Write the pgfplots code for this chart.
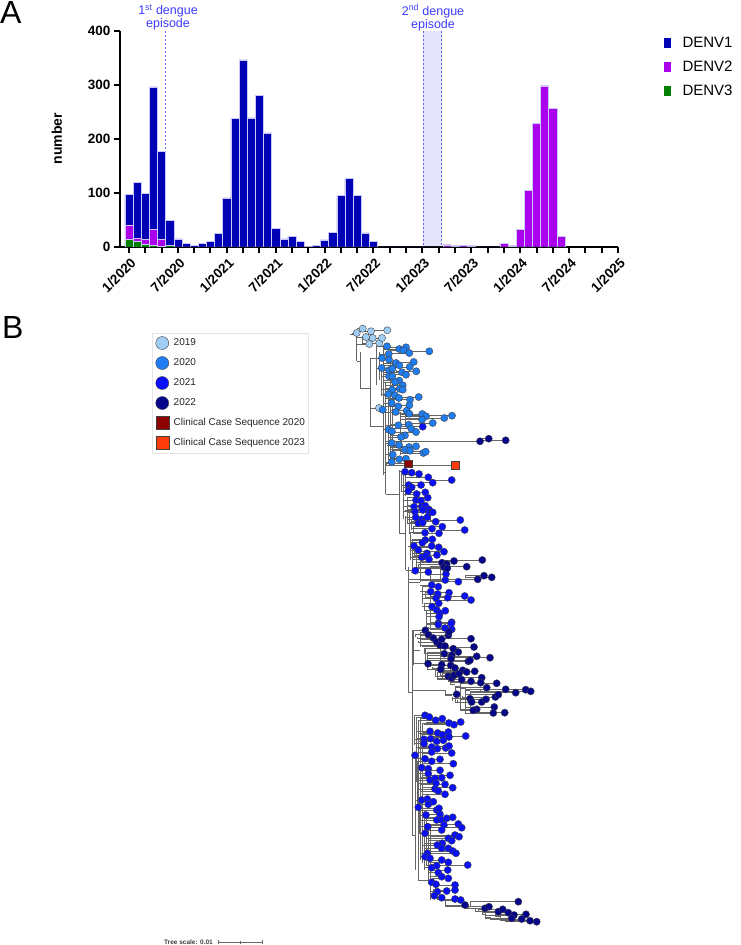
\documentclass[border=0pt]{standalone}
\usepackage{pgfplots}
\usepackage{pgfplotstable}
\pgfplotsset{compat=1.18}
\usepackage{fontspec}
\setmainfont{Liberation Sans}

\definecolor{denvone}{RGB}{0,0,180}
\definecolor{denvtwo}{RGB}{170,0,235}
\definecolor{denvthree}{RGB}{0,128,0}
\definecolor{baredge}{RGB}{200,200,255}
\definecolor{annot}{RGB}{60,60,255}
\definecolor{annotline}{RGB}{100,100,255}
\definecolor{shade}{RGB}{228,228,250}
\definecolor{yr2019}{RGB}{160,205,245}
\definecolor{yr2020}{RGB}{30,125,240}
\definecolor{yr2021}{RGB}{10,15,250}
\definecolor{yr2022}{RGB}{5,5,140}
\definecolor{case2020}{RGB}{140,0,0}
\definecolor{case2023}{RGB}{255,60,10}

% monthly case counts, month 0 = January 2020
\pgfplotstableread{
m d1 d2 d3
0 57 26 14
1 104 6 10
2 85 9 5
3 264 29 3
4 162 14 1
5 46 0 3
6 15 0 0
7 6 0 0
8 3 0 0
9 6 0 0
10 11 0 0
11 25 0 0
12 91 0 0
13 238 0 0
14 346 0 0
15 239 0 0
16 280 0 0
17 211 0 0
18 34 0 0
19 15 0 0
20 19 0 0
21 10 0 0
22 1 0 0
23 3 0 0
24 13 0 0
25 27 0 0
26 95 0 0
27 127 0 0
28 95 0 0
29 26 0 0
30 10 0 0
31 0 0 0
32 0 0 0
33 0 0 0
34 0 0 0
35 0 0 0
36 0 0 0
37 0 0 0
38 0 0 0
39 0 4 0
40 0 2 0
41 0 3 0
42 0 2 0
43 0 0 0
44 0 0 0
45 0 0 0
46 0 7 0
47 0 2 0
48 0 32 0
49 0 105 0
50 0 229 0
51 0 298 0
52 0 257 0
53 0 20 0
}\monthly

% tree tips: x = tip position, y = row, px = x of the parent node
\pgfplotstableread{
x y px
356.7 333 352
362.7 328.7 357
371 331.3 357
387.3 330.3 371
366 337 357
372.7 338 362
369.3 344 357
379.3 343 362
382 338 372
379 408 370
}\tipsA

\pgfplotstableread{
x y px
387 346.3 376
399.3 349 383
406 347.3 383
403.3 350.3 390
409.3 353 390
429.3 351.3 406
388.7 354 379
382 358 376
389 359.7 379
381.7 368 376
396 363 383
399.3 365.3 383
413.7 362 392
409.7 367 392
416.3 371.3 396
389 370.3 379
392.3 368.7 381
402 372.3 383
406 374.7 383
389 376.3 381
392.3 376.3 381
399.3 380.7 383
395 382 383
402.7 385.3 385
392.3 389.7 381
399.7 388.7 385
402.7 389.7 385
388.3 394 381
395 395.3 383
399 398 385
410 399.7 388
418.7 397 392
391.7 403 383
398.3 406.3 385
409.3 405.3 390
406.7 410.7 390
382.7 409.7 376
395.7 412 385
409.3 413.7 392
422.3 414 400
426 416.3 400
422 419.7 400
432.7 423 405
444.3 418 405
452 415.7 405
388.7 429.7 383
392 431.3 385
398.3 425.3 385
408.7 424.7 390
411.3 428.7 392
416 432 395
405 435.3 390
401 437 388
391.7 443 385
399 445 387
409 447 390
416 446.3 392
405 449.7 390
410 450.7 392
423.3 453 400
425.7 451.7 400
392.7 454.7 385
399.3 459.3 388
406 458.7 390
391.7 462 385
}\tipsB

\pgfplotstableread{
x y px
422.7 426.7 400
405 471.7 399
411.7 472.7 401
419 474 403
428.3 477.3 405
432.7 482.7 405
451.7 480 430
408.7 485 401
411.7 487.3 403
421 485 405
408.3 491 401
416.7 494 403
425.3 492.3 405
416 500 403
421 500.7 405
427.7 497.7 407
414 506.7 403
421.7 506.7 405
425.3 505.7 407
428.7 509.3 407
415 511.7 403
422.7 510 405
429.3 512.7 407
432.7 512.3 409
415.7 517.3 405
421.7 519.3 407
427.3 517.3 409
435.7 521.7 411
442.3 526.7 413
460.3 520 430
464.7 530 440
418.3 523.3 407
422.7 522.7 409
432 528.7 411
439 533.3 413
425 532.7 410
432.3 539.3 412
425.3 540 410
422.3 542.7 410
431.7 546 412
414 546 408
418.3 550 410
427 553.3 412
438.7 547.3 414
444 551.7 416
421.7 557.3 410
426 556 412
437 555 414
429 559.3 412
415.3 570.7 409
428.3 572 411
446 574 430
445.3 580 420
458.3 581.7 430
431.7 585 420
438.3 586.7 422
430.7 591.7 420
437.7 594 422
449 592.7 425
447.7 597.7 425
464.7 596 430
471 600 435
436 598.3 422
438.7 603.3 424
432 606.7 422
436.7 610 424
440 613.3 426
445.3 610.7 426
439 616.7 426
451.7 622.3 430
438.3 623.3 426
438.3 624.7 426
445 628 428
451 623.7 430
451.7 629.3 430
425 715.3 414
429.3 717 416
435.7 720.3 418
442.3 718.7 420
449 723 422
454 724.7 424
460.7 722 426
430 731.3 416
437.7 733 418
442.3 734.7 420
448.3 732 422
465.7 736 430
424 739.3 414
430.7 738.7 416
436.7 741.3 418
443.3 740.3 420
449 737 422
424 743.7 414
431.7 747 416
437.3 748.7 418
445.7 748 420
449 746 422
431.7 752 418
451.7 753 422
415 755.3 413
425 758.7 415
431.7 761.3 417
440 759.3 420
453.3 763.7 422
421.7 767.7 415
428.3 768.7 417
440 770.3 420
428.3 773.7 417
450 775.3 422
430 780 416
435 778.3 418
441.7 777.7 420
436 783.3 418
445 784.3 420
452.7 787.7 422
435 789 418
438.3 791 420
445 794.3 422
421.7 800 415
427.3 799 417
433.3 801.7 419
428.3 804.3 417
436.7 810 420
439 808.3 420
418.3 807.3 415
426 815 418
440 814.3 422
436.7 820 420
441.7 820 422
446.7 818.3 424
452.7 817.3 426
458.3 824 428
461.7 827.7 430
427.7 826.7 420
444 825 424
441.7 830 424
425 833.3 419
455 835 428
459 836.7 430
448.3 838.3 426
451.7 840.7 428
442.3 843.3 424
437.3 845 422
441.7 848.3 424
448.3 848.3 426
452.7 851 428
456 853.3 430
427.3 853.3 420
425 856.7 420
430 858.3 422
441.7 860 426
448.3 862.3 428
467.7 865 440
431.7 867.7 424
436.7 865.7 426
447.7 870 430
438.3 872.7 428
448.3 878.3 432
441.7 876.7 430
431.7 882.3 428
436 884.3 430
455 885 435
455 890 435
446.7 891 433
437.3 891.7 430
434.3 895.7 430
441.7 897.7 433
455 899 437
460.7 900 440
}\tipsC

\pgfplotstableread{
x y px
480 441.3 385
488.7 438.7 478
505.7 440.3 478
442 562.7 416
446.7 564 418
454 561 420
482.3 560 440
444 567.3 416
447.3 568.3 418
466.7 566.7 430
477.7 579.3 440
484 575.7 465
491.7 577.3 465
425.3 630.3 413
428.3 634.7 415
433.3 638 417
436.7 642 418
441.7 639.3 420
448.3 635.3 420
449 632 420
471 638.7 440
440 645.3 420
445 646 422
474 647 440
453.3 648.7 425
458.3 652 427
444.3 653.7 424
451.7 655.3 427
451 658.7 427
476.7 656.3 440
490 657.7 450
468.3 661.3 440
470 660.3 440
428 663.7 414
441.7 664.7 425
440.7 669.3 427
450.7 665.3 430
455 668 432
462.7 670.3 435
466.7 672 437
474.7 671.3 440
448.3 676.3 435
451.7 678 437
454 675.3 440
459 673.7 442
461.7 679.7 442
481.7 677.7 450
471 681.3 448
480.7 682.7 450
486.7 687.7 455
496.7 683.3 460
505.7 689.3 465
515.7 692.7 470
525.7 689.7 480
530.7 691.3 480
456.7 694.3 445
470 698.7 452
471.7 702 455
481.7 702 457
486 699.3 460
495.3 697 462
498.3 694.7 465
494.3 707 465
476.7 709.3 460
473.3 710.3 460
493.3 713 465
504.7 712.7 470
465 905 445
518.3 901.7 470
485 908.3 465
489 906.7 468
498.3 911.7 475
502.7 909.3 478
508.3 912.7 482
514 915 485
511.7 918.3 485
521.7 919 490
526 914.3 495
530 920.7 500
536.7 921.7 505
}\tipsD

% internal branches of the tree: start point (x,y) and offset (u,v)
\pgfplotstableread{
x y u v
350 334.5 6.7 0
356.7 330 0 31
356.7 361 3.3 0
362 336 0 9
371 329 0 11
372 336 0 4
360 352 0 36
360 388 10 0
370 358 0 68
370 358 6 0
376 346 0 39
379 352 0 28
381 366 0 30
370 426 13 0
383 345 0 130
385 383 0 90
388 398 0 62
390 350 0 108
392 361 0 92
396 370 0 3
400 412 0 43
405 414 0 12
406 347 0 6
386 463 0 3
386 463.7 22.3 0
386 465.3 69 0
478 438 0 3
383 472 2.7 0
385.7 466 0 28
385.7 494 13.3 0
399 470 0 63
401 472 0 19
403 472 0 47
405 474 0 22
407 497 0 27
409 512 0 22
411 520 0 10
413 526 0 8
430 478 0 4
430 518 0 4
440 528 0 3
399 533 6.5 0
405.5 516 0 54
410 532 0 28
412 539 0 33
414 546 0 11
416 551 0 17
418 564 0 5
420 561 0 21
430 566 0 9
440 560 0 20
465 575 0 3
405.5 570 3 0
408.3 567 0 125
408.3 579 31.7 0
408.3 582 11.7 0
422 585 0 19
424 603 0 8
426 610 0 19
428 627 0 2
430 574 0 8
430 595 0 35
425 592 0 6
435 599 0 2
408.3 692 3.7 0
412 630 0 205
413 630 0 35
415 634 0 3
417 637 0 2
418 641 0 2
420 632 0 15
422 645 0 2
424 648 0 6
425 648 0 17
427 652 0 18
430 665 0 2
432 667 0 2
435 670 0 7
437 672 0 7
440 638 0 38
442 673 0 7
445 690 0 5
448 680 0 2
450 657 0 27
452 697 0 4
455 686 0 17
457 700 0 3
460 683 0 28
462 696 0 2
465 688 0 26
470 691 0 23
480 689 0 3
413 650 7 0
425 660 15 0
427 669 8 0
435 676 5 0
437 679 13 0
412 690 33 0
445 695 7 0
450 684 5 0
455 686 5 0
460 688 5 0
465 690 5 0
470 691 10 0
412 835 3 0
413 755 0 2
414 715 0 30
415 755 0 115
416 717 0 65
417 761 0 45
418 720 0 160
419 801 0 32
420 719 0 141
422 723 0 140
424 810 0 60
426 818 0 48
428 823 0 61
430 827 0 73
432 878 0 2
433 889 0 10
435 884 0 7
437 898 0 2
440 899 0 2
418 880 10 0
440 900 5 0
445 900 0 6
445 906 20 0
465 905 0 4
468 906 0 2
470 901 0 6
465 908 10 0
475 908 0 4
475 911 7 0
478 909 0 2
482 912 0 2
485 912 0 7
482 914 3 0
485 917 5 0
490 917 0 3
495 914 0 3
490 919 5 0
500 915 0 6
495 916 5 0
505 918 0 4
500 920 5 0
}\branches

\pgfplotsset{
  tip/.style={only marks, mark=*, mark size=3.6pt,
    mark options={fill=#1, draw=black!75, line width=0.4pt}},
  case/.style={only marks, mark=square*, mark size=3.8pt,
    mark options={fill=#1, draw=black!75, line width=0.4pt}},
  twig/.style={quiver={u=\thisrow{x}-\thisrow{px}, v=0},
    draw=black!60, line width=0.45pt, forget plot},
  episode/.style={color=annotline, solid, dash pattern=on 2.5pt off 1.5pt,
    line width=0.8pt, forget plot},
}

\begin{document}
\begin{tikzpicture}
% full canvas in pixel units: panel labels, annotations and the tree (panel B)
\begin{axis}[
  at={(0pt,0pt)}, anchor=south west,
  scale only axis, width=740pt, height=945pt,
  xmin=0, xmax=740, ymin=0, ymax=945, y dir=reverse,
  hide axis, clip=false,
  legend style={at={(0.2054,0.6476)}, anchor=north west,
    draw=black!10, fill=white, line width=0.5pt,
    font=\fontsize{10}{12}\selectfont, text=black!85,
    inner xsep=2pt, inner ysep=3pt, row sep=6.5pt,
    nodes={inner sep=1.5pt, text height=8pt, text depth=2.5pt},
    cells={anchor=west}},
  legend cell align=left,
  legend image code/.code={
    \draw[#1, mark size=6.5pt] plot coordinates {(8pt,0pt)};
    \path[draw=none] (0pt,0pt) -- (18pt,0pt);},
]
\path (rel axis cs:0,0) rectangle (rel axis cs:1,1);

% second episode window and first episode date
\addplot[fill=shade, draw=none, forget plot]
  coordinates {(423,30.7) (441.5,30.7) (441.5,247) (423,247)} -- cycle;
\addplot[episode] coordinates {(423,30.7) (423,247)};
\addplot[episode] coordinates {(441.5,30.7) (441.5,247)};
\addplot[episode] coordinates {(165.7,30.7) (165.7,247)};

\node[font=\fontsize{12.5}{13}\selectfont, text=annot, align=center, inner sep=0pt]
  at (axis cs:168,17.5) {1\textsuperscript{st} dengue\\episode};
\node[font=\fontsize{12.5}{13}\selectfont, text=annot, align=center, inner sep=0pt]
  at (axis cs:433,17.5) {2\textsuperscript{nd} dengue\\episode};

\node[font=\fontsize{32}{34}\selectfont, anchor=north west, inner sep=0pt]
  at (axis cs:0,1.7) {A};
\node[font=\fontsize{32}{34}\selectfont, anchor=north west, inner sep=0pt]
  at (axis cs:2,316) {B};

% tree branches
\addplot[quiver={u=\thisrow{u}, v=\thisrow{v}}, draw=black!60, line width=0.45pt, forget plot]
  table[x=x, y=y] {\branches};
\addplot[twig] table[x=px, y=y] {\tipsA};
\addplot[twig] table[x=px, y=y] {\tipsB};
\addplot[twig] table[x=px, y=y] {\tipsC};
\addplot[twig] table[x=px, y=y] {\tipsD};

% tips by sampling year
\addplot[tip=yr2019] table[x=x, y=y] {\tipsA};
\addlegendentry{2019}
\addplot[tip=yr2020] table[x=x, y=y] {\tipsB};
\addlegendentry{2020}
\addplot[tip=yr2021] table[x=x, y=y] {\tipsC};
\addlegendentry{2021}
\addplot[tip=yr2022] table[x=x, y=y] {\tipsD};
\addlegendentry{2022}
\addplot[case=case2020] coordinates {(408.3,463.7)};
\addlegendentry{Clinical Case Sequence 2020}
\addplot[case=case2023] coordinates {(455,465.3)};
\addlegendentry{Clinical Case Sequence 2023}

% scale bar
\addplot[black!60, line width=0.5pt, forget plot] coordinates {(218,942) (262,942)};
\addplot[black!60, line width=0.5pt, forget plot] coordinates {(218,940) (218,944)};
\addplot[black!60, line width=0.5pt, forget plot] coordinates {(240,940.5) (240,943.5)};
\addplot[black!60, line width=0.5pt, forget plot] coordinates {(262,940) (262,944)};
\node[font=\fontsize{6.5}{7}\selectfont\bfseries, text=black!75, anchor=east, inner sep=0pt]
  at (axis cs:213,942) {Tree scale: 0.01};
\end{axis}

% panel A: monthly cases by serotype
\begin{axis}[
  at={(120pt,698pt)}, anchor=south west,
  scale only axis, width=498pt, height=216.3pt,
  xmin=-1.1, xmax=60, ymin=0, ymax=400,
  axis x line=bottom, axis y line=left,
  axis line style={-, line width=2.6pt},
  xtick={0,6,...,60},
  xticklabels={1/2020,7/2020,1/2021,7/2021,1/2022,7/2022,1/2023,7/2023,1/2024,7/2024,1/2025},
  minor xtick={2,4,8,10,14,16,20,22,26,28,32,34,38,40,44,46,50,52,56,58},
  ytick={0,100,200,300,400},
  tick align=outside, major tick length=6pt, minor tick length=6pt,
  every tick/.style={black, line width=2pt},
  every minor tick/.style={black, line width=2pt},
  /pgf/number format/assume math mode=true,
  tick label style={font=\fontsize{13.5}{15}\selectfont\bfseries},
  xticklabel style={xshift=6pt, yshift=-6pt, rotate=45, anchor=east, inner sep=2pt},
  ylabel={number},
  ylabel style={font=\fontsize{14}{16}\selectfont\bfseries,
    at={(axis description cs:-0.127,0.5)}, anchor=center},
  stack plots=y,
  reverse legend,
  legend style={at={(1.092,0.985)}, anchor=north west, draw=none, fill=none,
    font=\fontsize{15}{18}\selectfont, row sep=6pt, inner sep=0pt,
    nodes={inner sep=2pt, text height=11pt, text depth=3pt},
    cells={anchor=west},
    /tikz/every odd column/.append style={column sep=10pt}},
  legend cell align=left,
]
\addplot[ybar, bar width=1, bar shift=0pt, fill=denvthree, draw=baredge, line width=0.5pt,
  legend image code/.code={\fill[denvthree] (0pt,-4.5pt) rectangle (6pt,4.5pt);}]
  table[x=m, y=d3] {\monthly};
\addlegendentry{DENV3}
\addplot[ybar, bar width=1, bar shift=0pt, fill=denvtwo, draw=baredge, line width=0.5pt,
  legend image code/.code={\fill[denvtwo] (0pt,-4.5pt) rectangle (6pt,4.5pt);}]
  table[x=m, y=d2] {\monthly};
\addlegendentry{DENV2}
\addplot[ybar, bar width=1, bar shift=0pt, fill=denvone, draw=baredge, line width=0.5pt,
  legend image code/.code={\fill[denvone] (0pt,-4.5pt) rectangle (6pt,4.5pt);}]
  table[x=m, y=d1] {\monthly};
\addlegendentry{DENV1}
\end{axis}
\end{tikzpicture}
\end{document}
